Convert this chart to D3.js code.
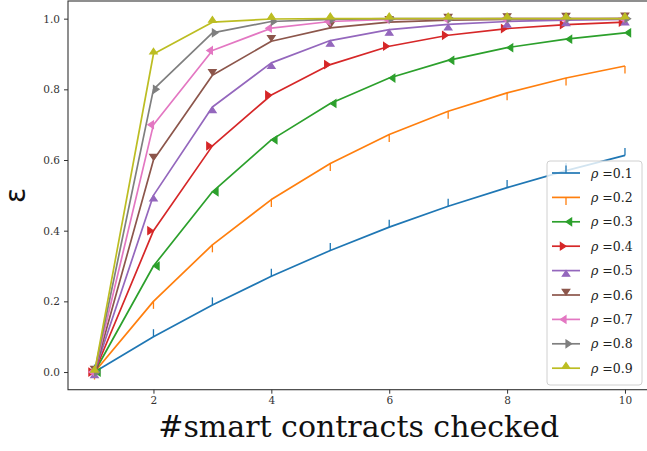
<!DOCTYPE html>
<html>
<head>
<meta charset="utf-8">
<script src="https://cdn.jsdelivr.net/npm/d3@7/dist/d3.min.js"></script>
<style>
  html, body { margin: 0; padding: 0; background: #fff; }
  svg { display: block; }
</style>
</head>
<body>
<svg id="chart" width="647" height="451"></svg>
<script>
// Number of smart contracts checked
const checked = [1, 2, 3, 4, 5, 6, 7, 8, 9, 10];

// Detection probability curves, one per rho
const rhoLabels = ["0.1", "0.2", "0.3", "0.4", "0.5", "0.6", "0.7", "0.8", "0.9"];
const eps01 = [0, 0.100, 0.190, 0.271, 0.344, 0.410, 0.469, 0.522, 0.570, 0.613];
const eps02 = [0, 0.200, 0.360, 0.488, 0.590, 0.672, 0.738, 0.790, 0.832, 0.866];
const eps03 = [0, 0.300, 0.510, 0.657, 0.760, 0.832, 0.882, 0.918, 0.942, 0.960];
const eps04 = [0, 0.400, 0.640, 0.784, 0.870, 0.922, 0.953, 0.972, 0.983, 0.990];
const eps05 = [0, 0.500, 0.750, 0.875, 0.938, 0.969, 0.984, 0.992, 0.996, 0.998];
const eps06 = [0, 0.600, 0.840, 0.936, 0.974, 0.990, 0.996, 0.998, 0.999, 1.000];
const eps07 = [0, 0.700, 0.910, 0.973, 0.992, 0.998, 0.999, 1.000, 1.000, 1.000];
const eps08 = [0, 0.800, 0.960, 0.992, 0.998, 1.000, 1.000, 1.000, 1.000, 1.000];
const eps09 = [0, 0.900, 0.990, 0.999, 1.000, 1.000, 1.000, 1.000, 1.000, 1.000];
const epsSeries = [eps01, eps02, eps03, eps04, eps05, eps06, eps07, eps08, eps09];

const xTicks = [2, 4, 6, 8, 10];
const yTicks = [0, 0.2, 0.4, 0.6, 0.8, 1.0];

const colors = ["#1f77b4", "#ff7f0e", "#2ca02c", "#d62728", "#9467bd",
                "#8c564b", "#e377c2", "#7f7f7f", "#bcbd22"];
const markerKinds = ["tickup", "tickdown", "caretleft", "caretright", "caretup",
                     "caretdown", "caretleftbase", "caretrightbase", "caretupbase"];

const svg = d3.select("#chart");
const plotLeft = 68, plotRight = 651.5, plotTop = 1, plotBottom = 389.7;

const x = d3.scaleLinear().domain([0.55, 10.45]).range([plotLeft, plotRight]);
const y = d3.scaleLinear().domain([-0.05, 1.05]).range([plotBottom, plotTop]);

const serif = "'DejaVu Serif', serif";
const ms = 7.5; // marker size in px

// Marker shapes: ticks are strokes, carets are filled triangles
function markerPath(kind) {
  const h = ms / 2, d = 0.75 * ms;
  switch (kind) {
    case "tickup": return `M0,0L0,${-ms}`;
    case "tickdown": return `M0,0L0,${ms}`;
    case "caretdown": return `M${-h},${-d}L0,0L${h},${-d}Z`;
    case "caretup": return `M${-h},${d}L0,0L${h},${d}Z`;
    case "caretleft": return `M${d},${-h}L0,0L${d},${h}Z`;
    case "caretright": return `M${-d},${-h}L0,0L${-d},${h}Z`;
    case "caretupbase": return `M${-h},0L0,${-d}L${h},0Z`;
    case "caretleftbase": return `M0,${-h}L${-d},0L0,${h}Z`;
    case "caretrightbase": return `M0,${-h}L${d},0L0,${h}Z`;
  }
}
function isTick(kind) { return kind.startsWith("tick"); }

function drawMarker(g, kind, color) {
  g.append("path")
    .attr("d", markerPath(kind))
    .attr("fill", isTick(kind) ? "none" : color)
    .attr("stroke", color)
    .attr("stroke-width", isTick(kind) ? 1.3 : 1.2)
    .attr("stroke-linejoin", "miter");
}

// Axes
const xAxis = svg.append("g")
  .attr("transform", `translate(0,${plotBottom})`)
  .call(d3.axisBottom(x).tickValues(xTicks).tickSize(4).tickPadding(3).tickFormat(d3.format("d")));
const yAxis = svg.append("g")
  .attr("transform", `translate(${plotLeft},0)`)
  .call(d3.axisLeft(y).tickValues(yTicks).tickSize(4).tickPadding(4).tickFormat(d3.format(".1f")));

[xAxis, yAxis].forEach(a => {
  a.select(".domain").remove();
  a.selectAll(".tick line").attr("stroke", "#333").attr("stroke-width", 1);
  a.selectAll(".tick text").attr("fill", "#333").style("font-family", serif).style("font-size", "10.5px");
});

// Frame
svg.append("rect")
  .attr("x", plotLeft).attr("y", plotTop)
  .attr("width", plotRight - plotLeft).attr("height", plotBottom - plotTop)
  .attr("fill", "none").attr("stroke", "#333").attr("stroke-width", 1.1);

// Curves
const line = d3.line().x((d, i) => x(checked[i])).y(d => y(d));
const plot = svg.append("g");
epsSeries.forEach((vals, k) => {
  const g = plot.append("g");
  g.append("path")
    .datum(vals)
    .attr("d", line)
    .attr("fill", "none")
    .attr("stroke", colors[k])
    .attr("stroke-width", 1.7)
    .attr("stroke-linejoin", "round");
  vals.forEach((v, i) => {
    const m = g.append("g").attr("transform", `translate(${x(checked[i])},${y(v)})`);
    drawMarker(m, markerKinds[k], colors[k]);
  });
});

// Axis labels
svg.append("text")
  .attr("x", (plotLeft + plotRight) / 2 - 1).attr("y", 437)
  .attr("text-anchor", "middle")
  .style("font-family", serif).style("font-size", "30px").attr("fill", "#111")
  .text("#smart contracts checked");

svg.append("text")
  .attr("transform", `translate(25,${(plotTop + plotBottom) / 2}) rotate(-90)`)
  .attr("text-anchor", "middle")
  .style("font-family", "'DejaVu Sans', sans-serif").style("font-size", "28px").attr("fill", "#111")
  .text("ε");

// Legend
const lg = svg.append("g");
lg.append("rect")
  .attr("x", 547).attr("y", 161).attr("width", 95).attr("height", 224)
  .attr("rx", 3).attr("fill", "#fff").attr("fill-opacity", 0.8)
  .attr("stroke", "#d0d0d0").attr("stroke-width", 1);
rhoLabels.forEach((lab, k) => {
  const ry = 173 + k * 24.4;
  lg.append("line")
    .attr("x1", 552).attr("x2", 580).attr("y1", ry).attr("y2", ry)
    .attr("stroke", colors[k]).attr("stroke-width", 1.7);
  const m = lg.append("g").attr("transform", `translate(566,${ry})`);
  drawMarker(m, markerKinds[k], colors[k]);
  const t = lg.append("text")
    .attr("x", 591).attr("y", ry + 4.5)
    .style("font-family", serif).style("font-size", "12.5px").attr("fill", "#222");
  t.append("tspan").style("font-style", "italic").text("ρ");
  t.append("tspan").text(" =" + lab);
});
</script>
</body>
</html>
